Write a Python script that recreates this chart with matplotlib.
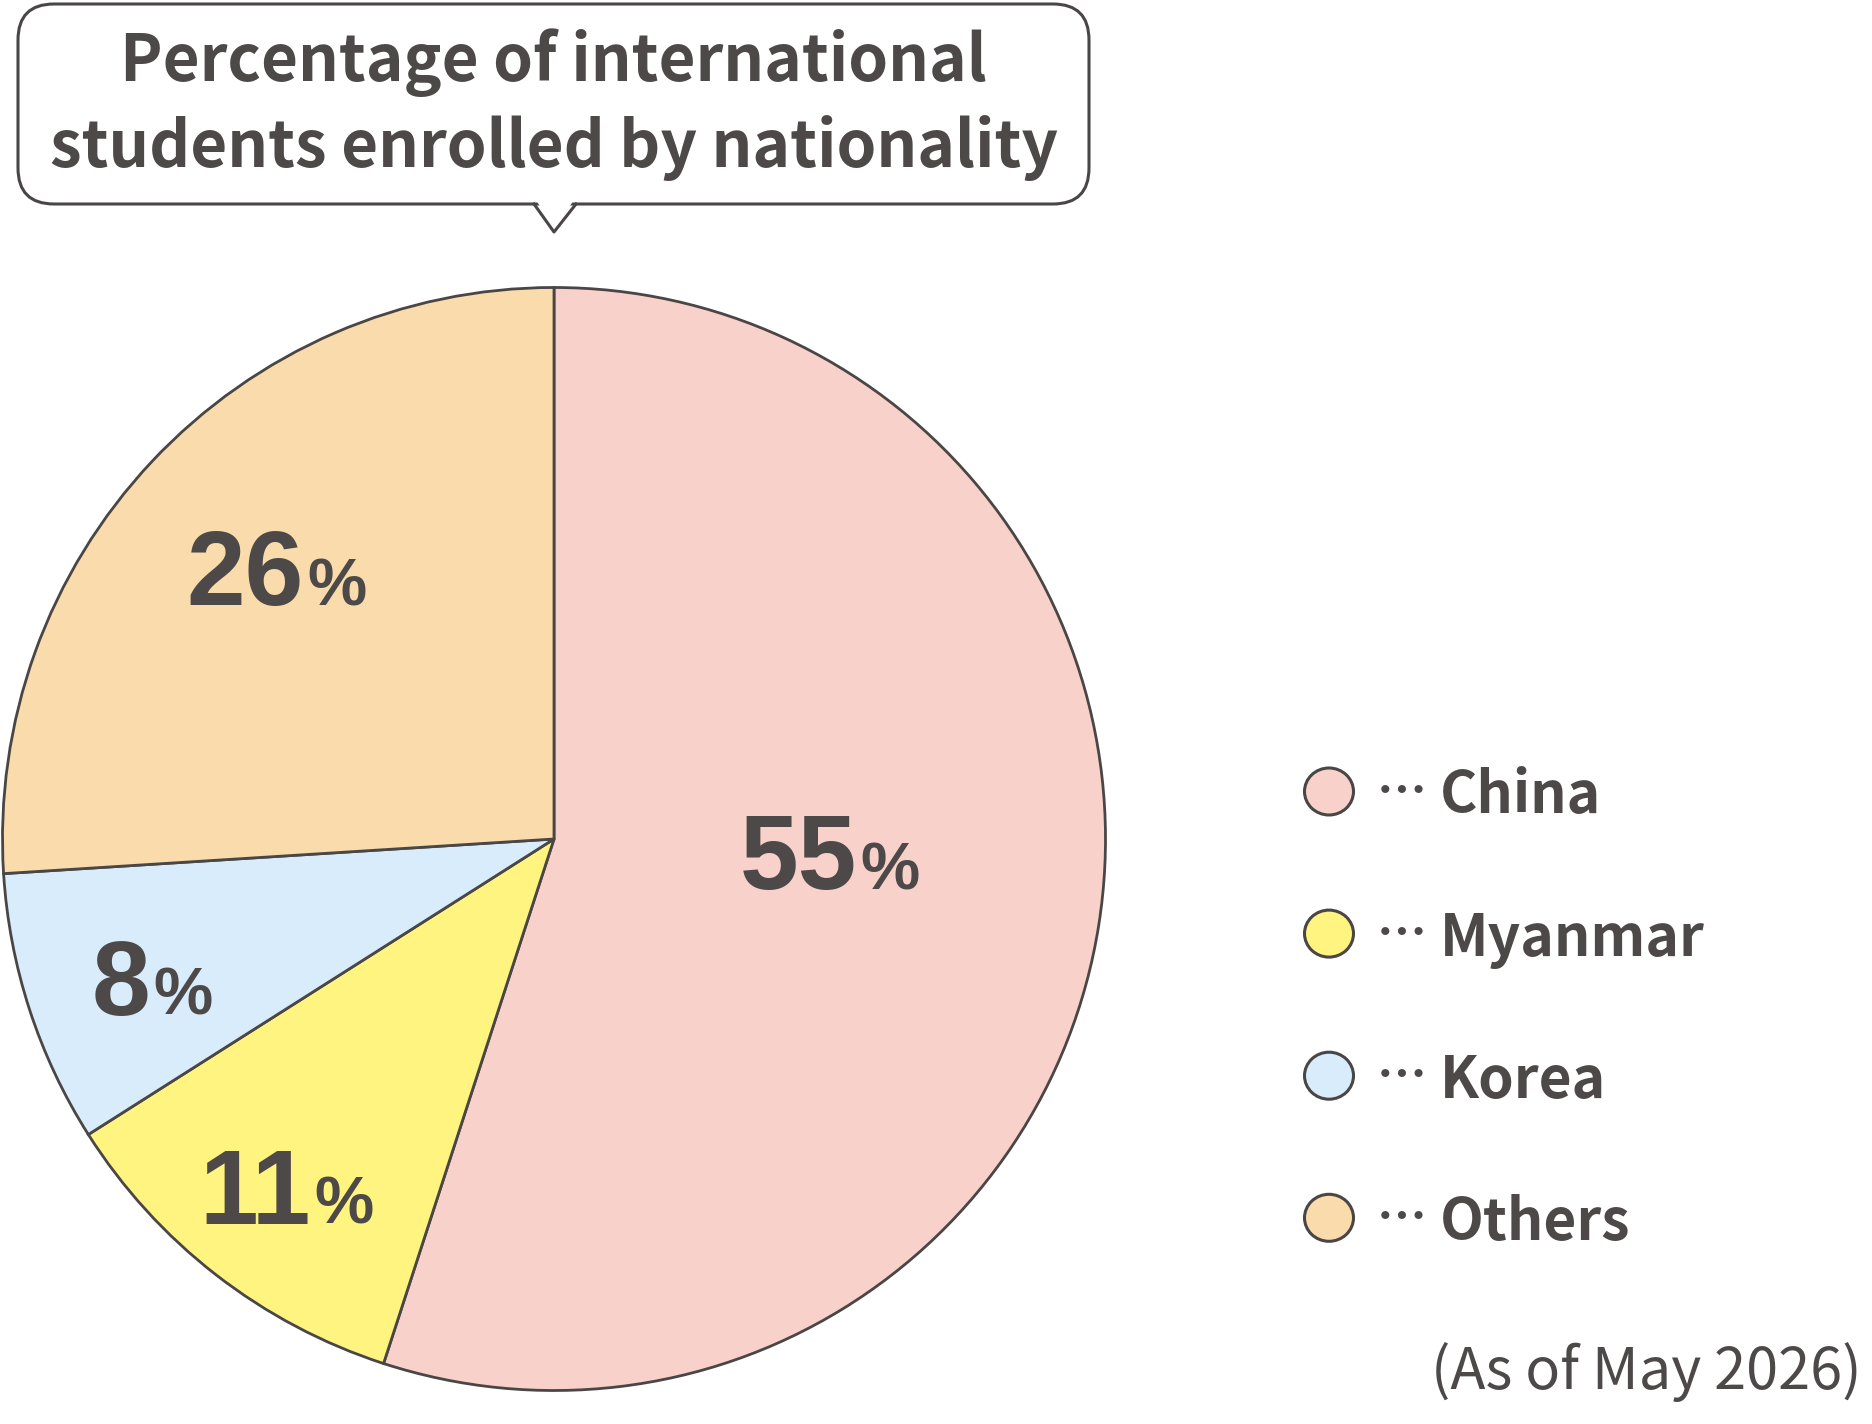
import matplotlib.pyplot as plt
from matplotlib.patches import FancyBboxPatch, Polygon, Ellipse
from matplotlib.lines import Line2D

# data
countries = ['China', 'Myanmar', 'Korea', 'Others']
shares = [55, 11, 8, 26]
colors = ['#f8d2ca', '#fff47f', '#d9ecfb', '#f9dbac']
label_pos = [(0.551, -0.091), (-0.439, -0.698), (-0.730, -0.319), (-0.451, 0.424)]
title_lines = ['Percentage of international', 'students enrolled by nationality']
note = '(As of May 2026)'

ink = '#4d4949'
W, H = 1872, 1424

fig = plt.figure(figsize=(W / 100, H / 100), dpi=100)
bg = fig.add_axes([0, 0, 1, 1])
bg.set_xlim(0, W)
bg.set_ylim(H, 0)
bg.axis('off')

# pie
cx, cy, R = 554, 839, 551.5
lim = 1.02
half = R * lim
ax = fig.add_axes([(cx - half) / W, (H - cy - half) / H, 2 * half / W, 2 * half / H])
ax.pie(shares, colors=colors, startangle=90, counterclock=False,
       wedgeprops=dict(edgecolor='#4a4646', linewidth=2.0))
ax.set_xlim(-lim, lim)
ax.set_ylim(-lim, lim)
ax.set_aspect('equal')
ax.axis('off')

for v, (x, y) in zip(shares, label_pos):
    ax.text(x - 0.002, y, str(v), ha='right', va='baseline', fontsize=76,
            fontweight='bold', family='Liberation Sans', color=ink)
    ax.text(x + 0.004, y, '%', ha='left', va='baseline', fontsize=48,
            fontweight='bold', family='Liberation Sans', color=ink)

# title speech bubble
box = FancyBboxPatch((18, 4), 1071, 200, boxstyle='round,pad=0,rounding_size=36',
                     facecolor='white', edgecolor='#4a4646', linewidth=2.2, zorder=2)
bg.add_patch(box)
bg.add_patch(Polygon([(536, 200), (574, 200), (554, 229)], closed=True,
                     facecolor='white', edgecolor='none', zorder=3))
bg.add_line(Line2D([534, 554, 576], [204, 232, 204], color='#4a4646', lw=2.2, zorder=4))
for txt, yb in zip(title_lines, [81, 167]):
    bg.text(553.5, yb, txt, ha='center', va='baseline', fontsize=46, fontweight='bold',
            family='Noto Sans CJK JP', color=ink, zorder=5)

# legend
leg_y = [791.5, 933.6, 1075.7, 1217.8]
for name, c, y in zip(countries, colors, leg_y):
    bg.add_patch(Ellipse((1329, y), 49, 47, facecolor=c, edgecolor='#4a4646', lw=2.2))
    bg.text(1377, y + 2, '…', ha='left', va='center', fontsize=36, fontweight='bold',
            family='Noto Sans CJK JP', color=ink)
    bg.text(1440, y + 22, name, ha='left', va='baseline', fontsize=41, fontweight='bold',
            family='Noto Sans CJK JP', color=ink)

bg.text(1862, 1389, note, ha='right', va='baseline', fontsize=41.5,
        family='Noto Sans CJK JP', color=ink)

fig.savefig('out.png', dpi=100, facecolor='white')
